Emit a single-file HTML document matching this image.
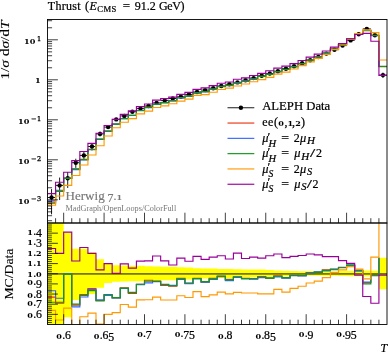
<!DOCTYPE html>
<html lang="en"><head><meta charset="utf-8"><title>Thrust</title>
<style>html,body{margin:0;padding:0;background:#fff;}svg{display:block;}</style>
</head><body>
<svg width="388" height="353" viewBox="0 0 388 353" font-family='"Liberation Serif", serif' font-size="12" fill="#000">
<rect x="0" y="0" width="388" height="353" fill="#fff"/>
<defs><clipPath id="cm"><rect x="47.5" y="19.5" width="339.5" height="203.5"/></clipPath><clipPath id="cr"><rect x="47.5" y="223.0" width="339.5" height="101.5"/></clipPath></defs>
<g clip-path="url(#cr)">
<path d="M47.50 223.00L55.58 223.00L55.58 223.00L63.67 223.00L63.67 232.50L71.75 232.50L71.75 248.71L79.83 248.71L79.83 248.71L87.92 248.71L87.92 252.28L96.00 252.28L96.00 259.22L104.08 259.22L104.08 264.12L112.17 264.12L112.17 265.14L120.25 265.14L120.25 265.54L128.33 265.54L128.33 265.85L136.42 265.85L136.42 265.85L144.50 265.85L144.50 266.36L152.58 266.36L152.58 266.56L160.67 266.56L160.67 266.67L168.75 266.67L168.75 266.87L176.83 266.87L176.83 267.18L184.92 267.18L184.92 267.58L193.00 267.58L193.00 268.20L201.08 268.20L201.08 268.40L209.17 268.40L209.17 268.60L217.25 268.60L217.25 268.91L225.33 268.91L225.33 269.11L233.42 269.11L233.42 269.22L241.50 269.22L241.50 269.42L249.58 269.42L249.58 269.42L257.67 269.42L257.67 269.62L265.75 269.62L265.75 269.93L273.83 269.93L273.83 270.44L281.92 270.44L281.92 270.64L290.00 270.64L290.00 270.95L298.08 270.95L298.08 271.15L306.17 271.15L306.17 271.26L314.25 271.26L314.25 271.26L322.33 271.26L322.33 271.26L330.42 271.26L330.42 271.26L338.50 271.26L338.50 271.05L346.58 271.05L346.58 270.85L354.67 270.85L354.67 270.64L362.75 270.64L362.75 270.44L370.83 270.44L370.83 270.64L378.92 270.64L378.92 257.69L387.00 257.69L387.00 289.31L378.92 289.31L378.92 276.36L370.83 276.36L370.83 276.56L362.75 276.56L362.75 276.36L354.67 276.36L354.67 276.15L346.58 276.15L346.58 275.95L338.50 275.95L338.50 275.74L330.42 275.74L330.42 275.74L322.33 275.74L322.33 275.74L314.25 275.74L314.25 275.74L306.17 275.74L306.17 275.85L298.08 275.85L298.08 276.05L290.00 276.05L290.00 276.36L281.92 276.36L281.92 276.56L273.83 276.56L273.83 277.07L265.75 277.07L265.75 277.38L257.67 277.38L257.67 277.58L249.58 277.58L249.58 277.58L241.50 277.58L241.50 277.78L233.42 277.78L233.42 277.89L225.33 277.89L225.33 278.09L217.25 278.09L217.25 278.40L209.17 278.40L209.17 278.60L201.08 278.60L201.08 278.80L193.00 278.80L193.00 279.42L184.92 279.42L184.92 279.82L176.83 279.82L176.83 280.13L168.75 280.13L168.75 280.33L160.67 280.33L160.67 280.44L152.58 280.44L152.58 280.64L144.50 280.64L144.50 281.15L136.42 281.15L136.42 281.15L128.33 281.15L128.33 281.46L120.25 281.46L120.25 281.86L112.17 281.86L112.17 282.88L104.08 282.88L104.08 287.78L96.00 287.78L96.00 293.90L87.92 293.90L87.92 296.14L79.83 296.14L79.83 300.02L71.75 300.02L71.75 317.16L63.67 317.16L63.67 324.50L55.58 324.50L55.58 324.50L47.50 324.50Z" fill="#FFFF00"/>
<line x1="47.5" x2="387.0" y1="273.95" y2="273.95" stroke="#000" stroke-width="0.95"/>
<path d="M47.50 297.16H55.58V303.18H63.67V273.60H71.75V305.12H79.83V294.61H87.92V288.49H96.00V300.53H104.08V294.92H112.17V297.98H120.25V287.78H128.33V293.49H136.42V284.21H144.50V280.23H152.58V281.15H160.67V285.54H168.75V286.15H176.83V278.29H184.92V283.39H193.00V278.29H201.08V282.07H209.17V278.29H217.25V276.66H225.33V279.31H233.42V277.17H241.50V278.29H249.58V278.91H257.67V276.46H265.75V278.50H273.83V275.74H281.92V277.99H290.00V275.23H298.08V275.64H306.17V272.48H314.25V272.48H322.33V269.83H330.42V269.42H338.50V267.28H346.58V265.34H354.67V270.03H362.75V282.68H370.83V274.62H378.92V257.78" fill="none" stroke="#EE3311" stroke-width="1.15" stroke-linejoin="miter"/>
<path d="M47.50 290.74H55.58V298.29H63.67V273.50H71.75V306.85H79.83V296.96H87.92V289.62H96.00V299.82H104.08V295.43H112.17V297.98H120.25V288.49H128.33V292.37H136.42V284.72H144.50V282.88H152.58V281.66H160.67V284.72H168.75V285.43H176.83V279.42H184.92V283.60H193.00V278.50H201.08V282.27H209.17V279.42H217.25V275.95H225.33V280.64H233.42V277.38H241.50V278.50H249.58V279.11H257.67V277.58H265.75V277.78H273.83V276.87H281.92V278.19H290.00V275.44H298.08V275.85H306.17V273.60H314.25V271.77H322.33V270.95H330.42V269.62H338.50V267.48H346.58V265.54H354.67V271.15H362.75V281.97H370.83V275.74H378.92V257.78" fill="none" stroke="#3366FF" stroke-width="1.15" stroke-linejoin="miter"/>
<path d="M47.50 302.26H55.58V302.26H63.67V274.21H71.75V304.10H79.83V295.33H87.92V290.64H96.00V301.04H104.08V294.51H112.17V297.57H120.25V288.09H128.33V292.68H136.42V284.21H144.50V281.25H152.58V281.35H160.67V284.31H168.75V285.74H176.83V278.80H184.92V282.99H193.00V278.80H201.08V281.66H209.17V278.80H217.25V276.25H225.33V279.82H233.42V276.76H241.50V278.80H249.58V278.50H257.67V276.97H265.75V278.09H273.83V276.25H281.92V277.58H290.00V275.74H298.08V275.23H306.17V272.99H314.25V272.07H322.33V270.34H330.42V269.01H338.50V267.79H346.58V264.93H354.67V270.54H362.75V283.80H370.83V275.13H378.92V257.78" fill="none" stroke="#109618" stroke-width="1.15" stroke-linejoin="miter"/>
<path d="M47.50 310.32H55.58V320.01H63.67V308.18H71.75V326.54H79.83V316.75H87.92V313.08H96.00V323.99H104.08V314.40H112.17V312.57H120.25V304.51H128.33V307.16H136.42V299.92H144.50V299.71H152.58V297.16H160.67V300.02H168.75V300.02H176.83V295.74H184.92V297.47H193.00V291.55H201.08V296.55H209.17V294.82H217.25V292.06H225.33V293.90H233.42V292.37H241.50V292.98H249.58V292.98H257.67V293.90H265.75V293.90H273.83V289.31H281.92V292.06H290.00V288.39H298.08V286.25H306.17V282.99H314.25V281.15H322.33V277.58H330.42V272.68H338.50V269.93H346.58V266.56H354.67V269.11H362.75V278.80H370.83V257.18H378.92V218.00H387.00" fill="none" stroke="#FF9900" stroke-width="1.15" stroke-linejoin="miter"/>
<path d="M47.50 248.51H55.58V253.41H63.67V232.19H71.75V260.95H79.83V247.49H87.92V253.41H96.00V269.83H104.08V263.61H112.17V273.30H120.25V263.81H128.33V268.09H136.42V261.06H144.50V260.85H152.58V255.96H160.67V260.85H168.75V265.03H176.83V258.10H184.92V261.26H193.00V256.36H201.08V259.42H209.17V257.08H217.25V255.75H225.33V259.02H233.42V253.10H241.50V258.51H249.58V257.08H257.67V258.10H265.75V255.75H273.83V254.02H281.92V257.59H290.00V256.36H298.08V255.45H306.17V254.02H314.25V254.94H322.33V256.67H330.42V256.67H338.50V260.65H346.58V263.30H354.67V275.13H362.75V296.45H370.83V303.28H378.92V275.13H387.00" fill="none" stroke="#990099" stroke-width="1.15" stroke-linejoin="miter"/>
</g>
<g clip-path="url(#cm)">
<path d="M47.50 197.50H55.58M51.54 189.12V214.31M55.58 185.40H63.67M59.62 177.56V200.06M63.67 178.20H71.75M67.71 171.99V187.97M71.75 162.70H79.83M75.79 158.71V167.88M79.83 155.40H87.92M83.88 151.73V160.05M87.92 146.50H96.00M91.96 143.26V150.49M96.00 133.90H104.08M100.04 131.62V136.52M104.08 127.10H112.17M108.12 125.57V128.78M112.17 119.40H120.25M116.21 118.03V120.89M120.25 115.90H128.33M124.29 114.60V117.31M128.33 111.70H136.42M132.38 110.44V113.05M136.42 108.60H144.50M140.46 107.34V109.95M144.50 106.00H152.58M148.54 104.82V107.26M152.58 102.90H160.67M156.62 101.76V104.12M160.67 100.60H168.75M164.71 99.47V101.80M168.75 98.50H176.83M172.79 97.41V99.67M176.83 96.80H184.92M180.88 95.76V97.91M184.92 94.40H193.00M188.96 93.42V95.44M193.00 92.00H201.08M197.04 91.12V92.93M201.08 90.10H209.17M205.12 89.25V90.99M209.17 88.20H217.25M213.21 87.39V89.05M217.25 86.00H225.33M221.29 85.24V86.80M225.33 84.30H233.42M229.38 83.57V85.06M233.42 82.40H241.50M237.46 81.69V83.15M241.50 80.30H249.58M245.54 79.62V81.01M249.58 78.10H257.67M253.62 77.42V78.81M257.67 75.80H265.75M261.71 75.15V76.47M265.75 73.50H273.83M269.79 72.90V74.12M273.83 71.20H281.92M277.88 70.69V71.73M281.92 68.70H290.00M285.96 68.22V69.19M290.00 66.30H298.08M294.04 65.87V66.74M298.08 63.30H306.17M302.12 62.90V63.70M306.17 60.20H314.25M310.21 59.82V60.59M314.25 57.00H322.33M318.29 56.62V57.39M322.33 53.60H330.42M326.38 53.22V53.99M330.42 49.70H338.50M334.46 49.32V50.09M338.50 45.60H346.58M342.54 45.19V46.02M346.58 40.40H354.67M350.62 39.95V40.86M354.67 34.20H362.75M358.71 33.72V34.69M362.75 28.90H370.83M366.79 28.39V29.43M370.83 35.20H378.92M374.88 34.72V35.69M378.92 75.10H387.00M382.96 72.60V78.03" fill="none" stroke="#000" stroke-width="0.9"/>
<circle cx="51.54" cy="197.50" r="2.2" fill="#000"/>
<circle cx="59.62" cy="185.40" r="2.2" fill="#000"/>
<circle cx="67.71" cy="178.20" r="2.2" fill="#000"/>
<circle cx="75.79" cy="162.70" r="2.2" fill="#000"/>
<circle cx="83.88" cy="155.40" r="2.2" fill="#000"/>
<circle cx="91.96" cy="146.50" r="2.2" fill="#000"/>
<circle cx="100.04" cy="133.90" r="2.2" fill="#000"/>
<circle cx="108.12" cy="127.10" r="2.2" fill="#000"/>
<circle cx="116.21" cy="119.40" r="2.2" fill="#000"/>
<circle cx="124.29" cy="115.90" r="2.2" fill="#000"/>
<circle cx="132.38" cy="111.70" r="2.2" fill="#000"/>
<circle cx="140.46" cy="108.60" r="2.2" fill="#000"/>
<circle cx="148.54" cy="106.00" r="2.2" fill="#000"/>
<circle cx="156.62" cy="102.90" r="2.2" fill="#000"/>
<circle cx="164.71" cy="100.60" r="2.2" fill="#000"/>
<circle cx="172.79" cy="98.50" r="2.2" fill="#000"/>
<circle cx="180.88" cy="96.80" r="2.2" fill="#000"/>
<circle cx="188.96" cy="94.40" r="2.2" fill="#000"/>
<circle cx="197.04" cy="92.00" r="2.2" fill="#000"/>
<circle cx="205.12" cy="90.10" r="2.2" fill="#000"/>
<circle cx="213.21" cy="88.20" r="2.2" fill="#000"/>
<circle cx="221.29" cy="86.00" r="2.2" fill="#000"/>
<circle cx="229.38" cy="84.30" r="2.2" fill="#000"/>
<circle cx="237.46" cy="82.40" r="2.2" fill="#000"/>
<circle cx="245.54" cy="80.30" r="2.2" fill="#000"/>
<circle cx="253.62" cy="78.10" r="2.2" fill="#000"/>
<circle cx="261.71" cy="75.80" r="2.2" fill="#000"/>
<circle cx="269.79" cy="73.50" r="2.2" fill="#000"/>
<circle cx="277.88" cy="71.20" r="2.2" fill="#000"/>
<circle cx="285.96" cy="68.70" r="2.2" fill="#000"/>
<circle cx="294.04" cy="66.30" r="2.2" fill="#000"/>
<circle cx="302.12" cy="63.30" r="2.2" fill="#000"/>
<circle cx="310.21" cy="60.20" r="2.2" fill="#000"/>
<circle cx="318.29" cy="57.00" r="2.2" fill="#000"/>
<circle cx="326.38" cy="53.60" r="2.2" fill="#000"/>
<circle cx="334.46" cy="49.70" r="2.2" fill="#000"/>
<circle cx="342.54" cy="45.60" r="2.2" fill="#000"/>
<circle cx="350.62" cy="40.40" r="2.2" fill="#000"/>
<circle cx="358.71" cy="34.20" r="2.2" fill="#000"/>
<circle cx="366.79" cy="28.90" r="2.2" fill="#000"/>
<circle cx="374.88" cy="35.20" r="2.2" fill="#000"/>
<circle cx="382.96" cy="75.10" r="2.2" fill="#000"/>
<path d="M47.50 202.09H55.58V191.37H63.67V178.22H71.75V169.15H79.83V159.43H87.92V149.26H96.00V139.25H104.08V131.19H112.17V124.17H120.25V118.52H128.33V115.49H136.42V110.53H144.50V107.19H152.58V104.25H160.67V102.78H168.75V100.80H176.83V97.64H184.92V96.17H193.00V92.84H201.08V91.62H209.17V89.04H217.25V86.55H225.33V85.32H233.42V83.04H241.50V81.14H249.58V79.05H257.67V76.31H265.75V74.37H273.83V71.59H281.92V69.48H290.00V66.60H298.08V63.67H306.17V60.03H314.25V56.83H322.33V52.99H330.42V49.02H338.50V44.57H346.58V39.06H354.67V33.62H362.75V30.54H370.83V35.39H378.92V66.72H387.00" fill="none" stroke="#EE3311" stroke-width="1.15" stroke-linejoin="miter"/>
<path d="M47.50 200.72H55.58V190.24H63.67V178.20H71.75V169.58H79.83V159.94H87.92V149.49H96.00V139.08H104.08V131.31H112.17V124.17H120.25V118.66H128.33V115.25H136.42V110.62H144.50V107.68H152.58V104.35H160.67V102.62H168.75V100.66H176.83V97.84H184.92V96.21H193.00V92.87H201.08V91.66H209.17V89.24H217.25V86.42H225.33V85.56H233.42V83.07H241.50V81.17H249.58V79.08H257.67V76.51H265.75V74.25H273.83V71.78H281.92V69.52H290.00V66.63H298.08V63.70H306.17V60.22H314.25V56.71H322.33V53.17H330.42V49.05H338.50V44.60H346.58V39.10H354.67V33.80H362.75V30.41H370.83V35.59H378.92V66.51H387.00" fill="none" stroke="#3366FF" stroke-width="1.15" stroke-linejoin="miter"/>
<path d="M47.50 203.26H55.58V191.16H63.67V178.32H71.75V168.90H79.83V159.58H87.92V149.70H96.00V139.37H104.08V131.11H112.17V124.08H120.25V118.58H128.33V115.32H136.42V110.53H144.50V107.37H152.58V104.29H160.67V102.55H168.75V100.72H176.83V97.73H184.92V96.10H193.00V92.93H201.08V91.55H209.17V89.13H217.25V86.48H225.33V85.41H233.42V82.96H241.50V81.23H249.58V78.97H257.67V76.40H265.75V74.30H273.83V71.68H281.92V69.41H290.00V66.69H298.08V63.60H306.17V60.11H314.25V56.76H322.33V53.07H330.42V48.95H338.50V44.65H346.58V39.00H354.67V33.70H362.75V30.75H370.83V35.48H378.92V66.30H387.00" fill="none" stroke="#109618" stroke-width="1.15" stroke-linejoin="miter"/>
<path d="M47.50 205.28H55.58V195.98H63.67V185.42H71.75V175.45H79.83V164.98H87.92V155.03H96.00V145.77H104.08V136.00H112.17V127.79H120.25V122.20H128.33V118.66H136.42V113.81H144.50V111.16H152.58V107.49H160.67V105.83H168.75V103.73H176.83V101.07H184.92V99.05H193.00V95.38H201.08V94.55H209.17V92.27H217.25V89.49H225.33V88.18H233.42V85.95H241.50V83.98H249.58V81.78H257.67V79.68H265.75V77.38H273.83V74.13H281.92V72.19H290.00V69.04H298.08V65.62H306.17V61.90H314.25V58.35H322.33V54.31H330.42V49.56H338.50V45.00H346.58V39.26H354.67V33.47H362.75V29.83H370.83V32.62H378.92V59.96H387.00" fill="none" stroke="#FF9900" stroke-width="1.15" stroke-linejoin="miter"/>
<path d="M47.50 193.69H55.58V182.28H63.67V172.29H71.75V160.68H79.83V151.45H87.92V143.38H96.00V133.29H104.08V125.49H112.17V119.37H120.25V114.32H128.33V110.80H136.42V106.60H144.50V103.97H152.58V100.14H160.67V98.57H168.75V97.11H176.83V94.36H184.92V92.43H193.00V89.30H201.08V87.85H209.17V85.61H217.25V83.21H225.33V81.99H233.42V79.23H241.50V77.92H249.58V75.51H257.67V73.36H265.75V70.71H273.83V68.16H281.92V66.18H290.00V63.60H298.08V60.47H306.17V57.16H314.25V54.10H322.33V50.95H330.42V47.05H338.50V43.54H346.58V38.74H354.67V34.48H362.75V33.33H370.83V41.20H378.92V75.38H387.00" fill="none" stroke="#990099" stroke-width="1.15" stroke-linejoin="miter"/>
</g>
<path d="M47.5 220.72h4.6M47.5 215.72h4.6M47.5 211.84h4.6M47.5 208.67h4.6M47.5 206.00h4.6M47.5 203.68h4.6M47.5 201.63h4.6M47.5 199.80h10.4M47.5 187.76h4.6M47.5 180.72h4.6M47.5 175.72h4.6M47.5 171.84h4.6M47.5 168.67h4.6M47.5 166.00h4.6M47.5 163.68h4.6M47.5 161.63h4.6M47.5 159.80h10.4M47.5 147.76h4.6M47.5 140.72h4.6M47.5 135.72h4.6M47.5 131.84h4.6M47.5 128.67h4.6M47.5 126.00h4.6M47.5 123.68h4.6M47.5 121.63h4.6M47.5 119.80h10.4M47.5 107.76h4.6M47.5 100.72h4.6M47.5 95.72h4.6M47.5 91.84h4.6M47.5 88.67h4.6M47.5 86.00h4.6M47.5 83.68h4.6M47.5 81.63h4.6M47.5 79.80h10.4M47.5 67.76h4.6M47.5 60.72h4.6M47.5 55.72h4.6M47.5 51.84h4.6M47.5 48.67h4.6M47.5 46.00h4.6M47.5 43.68h4.6M47.5 41.63h4.6M47.5 39.80h10.4M47.5 27.76h4.6M47.5 20.72h4.6M55.58 223.0v-4.8M55.58 324.5v-4.8M63.67 223.0v-10.3M63.67 324.5v-10.3M71.75 223.0v-4.8M71.75 324.5v-4.8M79.83 223.0v-4.8M79.83 324.5v-4.8M87.92 223.0v-4.8M87.92 324.5v-4.8M96.00 223.0v-4.8M96.00 324.5v-4.8M104.08 223.0v-10.3M104.08 324.5v-10.3M112.17 223.0v-4.8M112.17 324.5v-4.8M120.25 223.0v-4.8M120.25 324.5v-4.8M128.33 223.0v-4.8M128.33 324.5v-4.8M136.42 223.0v-4.8M136.42 324.5v-4.8M144.50 223.0v-10.3M144.50 324.5v-10.3M152.58 223.0v-4.8M152.58 324.5v-4.8M160.67 223.0v-4.8M160.67 324.5v-4.8M168.75 223.0v-4.8M168.75 324.5v-4.8M176.83 223.0v-4.8M176.83 324.5v-4.8M184.92 223.0v-10.3M184.92 324.5v-10.3M193.00 223.0v-4.8M193.00 324.5v-4.8M201.08 223.0v-4.8M201.08 324.5v-4.8M209.17 223.0v-4.8M209.17 324.5v-4.8M217.25 223.0v-4.8M217.25 324.5v-4.8M225.33 223.0v-10.3M225.33 324.5v-10.3M233.42 223.0v-4.8M233.42 324.5v-4.8M241.50 223.0v-4.8M241.50 324.5v-4.8M249.58 223.0v-4.8M249.58 324.5v-4.8M257.67 223.0v-4.8M257.67 324.5v-4.8M265.75 223.0v-10.3M265.75 324.5v-10.3M273.83 223.0v-4.8M273.83 324.5v-4.8M281.92 223.0v-4.8M281.92 324.5v-4.8M290.00 223.0v-4.8M290.00 324.5v-4.8M298.08 223.0v-4.8M298.08 324.5v-4.8M306.17 223.0v-10.3M306.17 324.5v-10.3M314.25 223.0v-4.8M314.25 324.5v-4.8M322.33 223.0v-4.8M322.33 324.5v-4.8M330.42 223.0v-4.8M330.42 324.5v-4.8M338.50 223.0v-4.8M338.50 324.5v-4.8M346.58 223.0v-10.3M346.58 324.5v-10.3M354.67 223.0v-4.8M354.67 324.5v-4.8M362.75 223.0v-4.8M362.75 324.5v-4.8M370.83 223.0v-4.8M370.83 324.5v-4.8M378.92 223.0v-4.8M378.92 324.5v-4.8M47.5 322.47h4.4M47.5 320.44h4.4M47.5 318.41h4.4M47.5 316.38h4.4M47.5 314.35h10.4M47.5 312.32h4.4M47.5 310.29h4.4M47.5 308.26h4.4M47.5 306.23h4.4M47.5 304.20h10.4M47.5 302.17h4.4M47.5 300.14h4.4M47.5 298.11h4.4M47.5 296.08h4.4M47.5 294.05h10.4M47.5 292.02h4.4M47.5 289.99h4.4M47.5 287.96h4.4M47.5 285.93h4.4M47.5 283.90h10.4M47.5 281.87h4.4M47.5 279.84h4.4M47.5 277.81h4.4M47.5 275.78h4.4M47.5 273.75h10.4M47.5 271.72h4.4M47.5 269.69h4.4M47.5 267.66h4.4M47.5 265.63h4.4M47.5 263.60h10.4M47.5 261.57h4.4M47.5 259.54h4.4M47.5 257.51h4.4M47.5 255.48h4.4M47.5 253.45h10.4M47.5 251.42h4.4M47.5 249.39h4.4M47.5 247.36h4.4M47.5 245.33h4.4M47.5 243.30h10.4M47.5 241.27h4.4M47.5 239.24h4.4M47.5 237.21h4.4M47.5 235.18h4.4M47.5 233.15h10.4M47.5 231.12h4.4M47.5 229.09h4.4M47.5 227.06h4.4M47.5 225.03h4.4" fill="none" stroke="#000" stroke-width="0.75"/>
<rect x="47.5" y="19.5" width="339.5" height="203.5" fill="none" stroke="#000" stroke-width="0.9"/>
<rect x="47.5" y="223.0" width="339.5" height="101.5" fill="none" stroke="#000" stroke-width="0.9"/>
<text y="9.5" stroke="#000" stroke-width="0.22"><tspan x="47.8" letter-spacing="0.28">Thrust </tspan><tspan x="84.9">(</tspan><tspan x="89.4" font-style="italic">E</tspan><tspan x="97.3" dy="2.4" font-size="8.6" letter-spacing="0.45">CMS</tspan><tspan x="119.5" dy="-2.4" font-size="13"> =</tspan><tspan x="131.7"> 91.2</tspan><tspan x="156.4" letter-spacing="-0.35"> GeV</tspan><tspan x="180.6">)</tspan></text>
<text x="24.00 29.80 37.00" y="44.45 44.45 40.55" font-size="11.8"><tspan font-family='"DejaVu Serif", serif' font-size="8.1" font-weight="bold" stroke="none">1</tspan><tspan font-family='"DejaVu Serif", serif' font-size="8.1" font-weight="bold" stroke="none">0</tspan><tspan font-family='"DejaVu Serif", serif' font-size="6.6" stroke="#000" stroke-width="0.3">1</tspan></text>
<text x="18.00 23.80 31.00 37.00" y="124.45 124.45 121.15 121.15" font-size="11.8"><tspan font-family='"DejaVu Serif", serif' font-size="8.1" font-weight="bold" stroke="none">1</tspan><tspan font-family='"DejaVu Serif", serif' font-size="8.1" font-weight="bold" stroke="none">0</tspan><tspan font-family='"DejaVu Serif", serif' font-size="6.6" stroke="#000" stroke-width="0.3">−1</tspan></text>
<text x="18.00 23.80 31.00 37.00" y="164.45 164.45 161.15 161.15" font-size="11.8"><tspan font-family='"DejaVu Serif", serif' font-size="8.1" font-weight="bold" stroke="none">1</tspan><tspan font-family='"DejaVu Serif", serif' font-size="8.1" font-weight="bold" stroke="none">0</tspan><tspan font-family='"DejaVu Serif", serif' font-size="6.6" stroke="#000" stroke-width="0.3">−2</tspan></text>
<text x="18.00 23.80 31.00 37.00" y="204.45 204.45 201.15 201.15" font-size="11.8"><tspan font-family='"DejaVu Serif", serif' font-size="8.1" font-weight="bold" stroke="none">1</tspan><tspan font-family='"DejaVu Serif", serif' font-size="8.1" font-weight="bold" stroke="none">0</tspan><tspan font-family='"DejaVu Serif", serif' font-size="6.6" stroke="#000" stroke-width="0.3">−3</tspan></text>
<text x="35.10" y="82.70" font-size="11.8" fill="#000" stroke="#000" stroke-width="0.22" ><tspan font-family='"DejaVu Serif", serif' font-size="8.1" font-weight="bold" stroke="none">1</tspan></text>
<text x="27.30 33.20 35.90" y="318.25 318.25 318.25" font-size="11.8" fill="#000" stroke="#000" stroke-width="0.22" ><tspan font-family='"DejaVu Serif", serif' font-size="8.1" font-weight="bold" stroke="none">0</tspan>.6</text>
<text x="27.30 33.20 35.90" y="305.60 305.60 308.20" font-size="11.8" fill="#000" stroke="#000" stroke-width="0.22" ><tspan font-family='"DejaVu Serif", serif' font-size="8.1" font-weight="bold" stroke="none">0</tspan>.7</text>
<text x="27.30 33.20 35.90" y="297.95 297.95 297.95" font-size="11.8" fill="#000" stroke="#000" stroke-width="0.22" ><tspan font-family='"DejaVu Serif", serif' font-size="8.1" font-weight="bold" stroke="none">0</tspan>.8</text>
<text x="27.30 33.20 35.90" y="285.30 285.30 287.90" font-size="11.8" fill="#000" stroke="#000" stroke-width="0.22" ><tspan font-family='"DejaVu Serif", serif' font-size="8.1" font-weight="bold" stroke="none">0</tspan>.9</text>
<text x="27.30 33.20 36.00" y="276.55 276.55 276.55" font-size="11.8" fill="#000" stroke="#000" stroke-width="0.22" ><tspan font-family='"DejaVu Serif", serif' font-size="8.1" font-weight="bold" stroke="none">1</tspan>.<tspan font-family='"DejaVu Serif", serif' font-size="8.1" font-weight="bold" stroke="none">0</tspan></text>
<text x="27.30 33.20 36.00" y="266.40 266.40 266.40" font-size="11.8" fill="#000" stroke="#000" stroke-width="0.22" ><tspan font-family='"DejaVu Serif", serif' font-size="8.1" font-weight="bold" stroke="none">1</tspan>.<tspan font-family='"DejaVu Serif", serif' font-size="8.1" font-weight="bold" stroke="none">1</tspan></text>
<text x="27.30 33.20 36.00" y="256.25 256.25 256.25" font-size="11.8" fill="#000" stroke="#000" stroke-width="0.22" ><tspan font-family='"DejaVu Serif", serif' font-size="8.1" font-weight="bold" stroke="none">1</tspan>.<tspan font-family='"DejaVu Serif", serif' font-size="8.1" font-weight="bold" stroke="none">2</tspan></text>
<text x="27.30 33.20 35.90" y="244.70 244.70 247.30" font-size="11.8" fill="#000" stroke="#000" stroke-width="0.22" ><tspan font-family='"DejaVu Serif", serif' font-size="8.1" font-weight="bold" stroke="none">1</tspan>.3</text>
<text x="27.30 33.20 35.90" y="234.55 234.55 237.15" font-size="11.8" fill="#000" stroke="#000" stroke-width="0.22" ><tspan font-family='"DejaVu Serif", serif' font-size="8.1" font-weight="bold" stroke="none">1</tspan>.4</text>
<text x="56.32 62.22 64.92" y="338.75 338.75 338.75" font-size="11.8" fill="#000" stroke="#000" stroke-width="0.22" ><tspan font-family='"DejaVu Serif", serif' font-size="8.1" font-weight="bold" stroke="none">0</tspan>.6</text>
<text x="93.83 99.73 102.43 108.23" y="338.75 338.75 338.75 341.35" font-size="11.8" fill="#000" stroke="#000" stroke-width="0.22" ><tspan font-family='"DejaVu Serif", serif' font-size="8.1" font-weight="bold" stroke="none">0</tspan>.65</text>
<text x="137.15 143.05 145.75" y="336.85 336.85 339.45" font-size="11.8" fill="#000" stroke="#000" stroke-width="0.22" ><tspan font-family='"DejaVu Serif", serif' font-size="8.1" font-weight="bold" stroke="none">0</tspan>.7</text>
<text x="174.67 180.57 183.27 189.07" y="336.85 336.85 339.45 339.45" font-size="11.8" fill="#000" stroke="#000" stroke-width="0.22" ><tspan font-family='"DejaVu Serif", serif' font-size="8.1" font-weight="bold" stroke="none">0</tspan>.75</text>
<text x="217.98 223.88 226.58" y="338.75 338.75 338.75" font-size="11.8" fill="#000" stroke="#000" stroke-width="0.22" ><tspan font-family='"DejaVu Serif", serif' font-size="8.1" font-weight="bold" stroke="none">0</tspan>.8</text>
<text x="255.50 261.40 264.10 269.90" y="338.75 338.75 338.75 341.35" font-size="11.8" fill="#000" stroke="#000" stroke-width="0.22" ><tspan font-family='"DejaVu Serif", serif' font-size="8.1" font-weight="bold" stroke="none">0</tspan>.85</text>
<text x="298.82 304.72 307.42" y="336.85 336.85 339.45" font-size="11.8" fill="#000" stroke="#000" stroke-width="0.22" ><tspan font-family='"DejaVu Serif", serif' font-size="8.1" font-weight="bold" stroke="none">0</tspan>.9</text>
<text x="336.33 342.23 344.93 350.73" y="336.85 336.85 339.45 339.45" font-size="11.8" fill="#000" stroke="#000" stroke-width="0.22" ><tspan font-family='"DejaVu Serif", serif' font-size="8.1" font-weight="bold" stroke="none">0</tspan>.95</text>
<text x="387.3" y="351.9" text-anchor="end" stroke="#000" stroke-width="0.22" ><tspan font-style="italic">T</tspan></text>
<text transform="translate(8.9,79.6) rotate(-90)" id="ylab" font-size="12.0" stroke="#000" stroke-width="0.1" textLength="59.2" lengthAdjust="spacingAndGlyphs">1/<tspan font-style="italic">σ</tspan> d<tspan font-style="italic">σ</tspan>/d<tspan font-style="italic">T</tspan></text>
<text transform="translate(12.8,299.6) rotate(-90)" id="rlab" font-size="12.0" stroke="#000" stroke-width="0.1" textLength="51" lengthAdjust="spacingAndGlyphs">MC/Data</text>
<text y="199.6" fill="#777" stroke="#777" stroke-width="0.15" font-size="11.8"><tspan x="65.5" font-size="12.2" textLength="39.2" lengthAdjust="spacingAndGlyphs">Herwig</tspan><tspan x="104.8"> </tspan><tspan x="107.60" y="202.20" stroke-width="0.22">7</tspan><tspan x="113.60" y="199.6">.</tspan><tspan x="116.40"><tspan font-family='"DejaVu Serif", serif' font-size="8.1" font-weight="bold" stroke="none">1</tspan></tspan></text>
<text x="65.5" y="211" text-anchor="start"  fill="#777" font-size="7.4" textLength="110.7" lengthAdjust="spacingAndGlyphs">MadGraph/OpenLoops/ColorFull</text>
<line x1="227.5" x2="254.3" y1="107.75" y2="107.75" stroke="#000" stroke-width="0.9"/>
<circle cx="240.9" cy="107.75" r="2.2" fill="#000"/>
<line x1="227.5" x2="254.3" y1="123.05" y2="123.05" stroke="#EE3311" stroke-width="1.15"/>
<line x1="227.5" x2="254.3" y1="138.35" y2="138.35" stroke="#3366FF" stroke-width="1.15"/>
<line x1="227.5" x2="254.3" y1="153.65" y2="153.65" stroke="#109618" stroke-width="1.15"/>
<line x1="227.5" x2="254.3" y1="168.95" y2="168.95" stroke="#FF9900" stroke-width="1.15"/>
<line x1="227.5" x2="254.3" y1="184.25" y2="184.25" stroke="#990099" stroke-width="1.15"/>
<text x="262.2" y="110.4" text-anchor="start" stroke="#000" stroke-width="0.22" textLength="68" lengthAdjust="spacingAndGlyphs">ALEPH Data</text>
<text x="262.2 267.9 273.9 278.2 284.4 287.4 292.0 295.2 301.0" y="125.9" stroke="#000" stroke-width="0.22">ee(<tspan font-family='"DejaVu Serif", serif' font-size="8.1" font-weight="bold" stroke="none">0</tspan>,<tspan font-family='"DejaVu Serif", serif' font-size="8.1" font-weight="bold" stroke="none">1</tspan>,<tspan font-family='"DejaVu Serif", serif' font-size="8.1" font-weight="bold" stroke="none">2</tspan>)</text>
<text stroke="#000" stroke-width="0.22"><tspan x="262.20" y="142.10" font-style="italic" font-size="12.4">μ</tspan><tspan x="267.60" y="140.50" font-size="13">′</tspan><tspan x="268.60" y="146.50" font-style="italic" font-size="9.4" textLength="7.6" lengthAdjust="spacingAndGlyphs">H</tspan><tspan x="278.00" y="142.30" font-size="12.6"> </tspan><tspan x="281.20" y="142.30" font-size="12.6" textLength="7.8" lengthAdjust="spacingAndGlyphs">=</tspan><tspan x="290.00" y="142.10" > </tspan><tspan x="293.70" y="142.10" >2</tspan><tspan x="300.10" y="142.10" font-style="italic" font-size="12.4">μ</tspan><tspan x="307.10" y="144.40" font-style="italic" font-size="9.4" textLength="8.0" lengthAdjust="spacingAndGlyphs">H</tspan></text>
<text stroke="#000" stroke-width="0.22"><tspan x="262.20" y="157.20" font-style="italic" font-size="12.4">μ</tspan><tspan x="267.60" y="155.60" font-size="13">′</tspan><tspan x="268.60" y="161.60" font-style="italic" font-size="9.4" textLength="7.6" lengthAdjust="spacingAndGlyphs">H</tspan><tspan x="278.00" y="157.40" font-size="12.6"> </tspan><tspan x="281.20" y="157.40" font-size="12.6" textLength="7.8" lengthAdjust="spacingAndGlyphs">=</tspan><tspan x="290.00" y="157.20" > </tspan><tspan x="294.30" y="157.20" font-style="italic" font-size="12.4">μ</tspan><tspan x="301.30" y="159.50" font-style="italic" font-size="9.4" textLength="8.0" lengthAdjust="spacingAndGlyphs">H</tspan><tspan x="310.10" y="157.20" textLength="5.2" lengthAdjust="spacingAndGlyphs">/</tspan><tspan x="315.90" y="157.20" >2</tspan></text>
<text stroke="#000" stroke-width="0.22"><tspan x="262.20" y="172.60" font-style="italic" font-size="12.4">μ</tspan><tspan x="267.60" y="171.00" font-size="13">′</tspan><tspan x="268.60" y="177.00" font-style="italic" font-size="9.4" textLength="4.8" lengthAdjust="spacingAndGlyphs">S</tspan><tspan x="278.00" y="172.80" font-size="12.6"> </tspan><tspan x="281.20" y="172.80" font-size="12.6" textLength="7.8" lengthAdjust="spacingAndGlyphs">=</tspan><tspan x="290.00" y="172.60" > </tspan><tspan x="293.70" y="172.60" >2</tspan><tspan x="300.10" y="172.60" font-style="italic" font-size="12.4">μ</tspan><tspan x="307.10" y="174.90" font-style="italic" font-size="9.4" textLength="5.2" lengthAdjust="spacingAndGlyphs">S</tspan></text>
<text stroke="#000" stroke-width="0.22"><tspan x="262.20" y="188.00" font-style="italic" font-size="12.4">μ</tspan><tspan x="267.60" y="186.40" font-size="13">′</tspan><tspan x="268.60" y="192.40" font-style="italic" font-size="9.4" textLength="4.8" lengthAdjust="spacingAndGlyphs">S</tspan><tspan x="278.00" y="188.20" font-size="12.6"> </tspan><tspan x="281.20" y="188.20" font-size="12.6" textLength="7.8" lengthAdjust="spacingAndGlyphs">=</tspan><tspan x="290.00" y="188.00" > </tspan><tspan x="294.30" y="188.00" font-style="italic" font-size="12.4">μ</tspan><tspan x="301.30" y="190.30" font-style="italic" font-size="9.4" textLength="5.2" lengthAdjust="spacingAndGlyphs">S</tspan><tspan x="306.80" y="188.00" textLength="5.2" lengthAdjust="spacingAndGlyphs">/</tspan><tspan x="312.60" y="188.00" >2</tspan></text>
</svg>
</body></html>
